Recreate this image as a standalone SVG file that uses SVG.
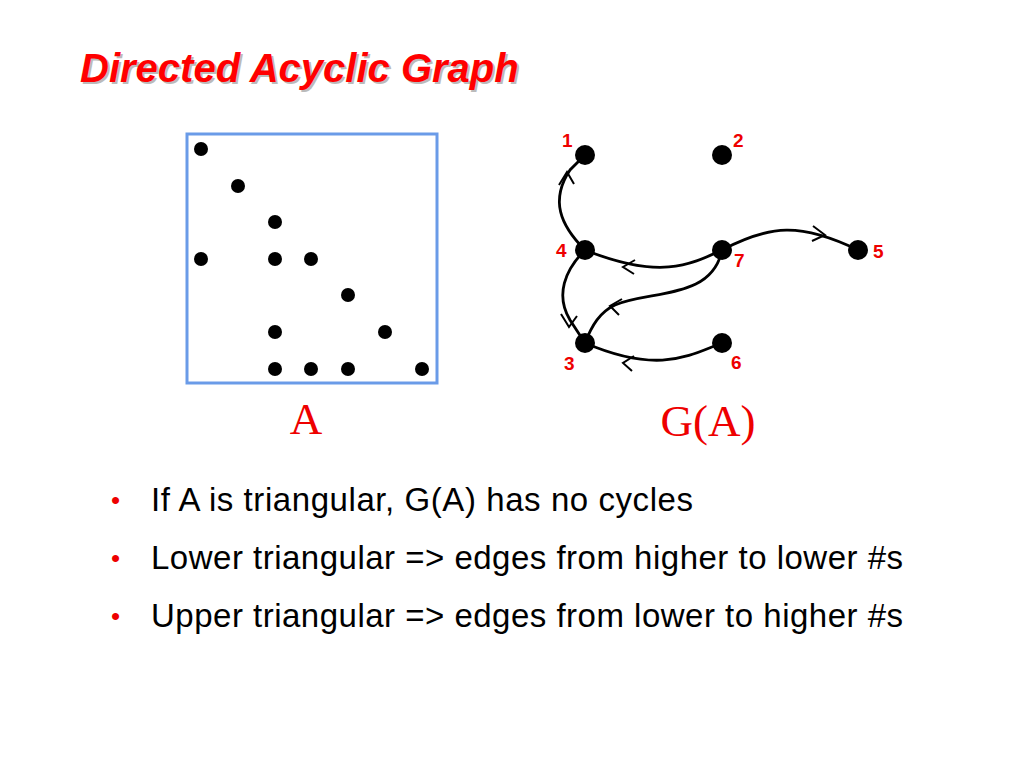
<svg xmlns="http://www.w3.org/2000/svg" width="1024" height="768" viewBox="0 0 1024 768">
<style>
.d{fill:#000}
.e{fill:none;stroke:#000;stroke-width:2.8}
.h{fill:none;stroke:#000;stroke-width:2}
.n{font-family:"Liberation Sans",Arial,sans-serif;font-weight:bold;font-size:19px;fill:#e00}
.b{font-family:"Liberation Sans",Arial,sans-serif;font-size:33px;fill:#000}
.p{font-family:"Liberation Sans",Arial,sans-serif;font-size:26px;fill:#e00}
.s{font-family:"Liberation Serif","Times New Roman",serif;font-size:45px;fill:#e00}
</style>
<rect width="1024" height="768" fill="#fff"/>
<text x="82" y="84" font-family="Liberation Sans,Arial,sans-serif" font-weight="bold" font-style="italic" font-size="40" fill="#bbb">Directed Acyclic Graph</text>
<text x="80" y="82" font-family="Liberation Sans,Arial,sans-serif" font-weight="bold" font-style="italic" font-size="40" fill="#f00">Directed Acyclic Graph</text>
<g id="matrix">
<rect x="187" y="134" width="250" height="249" fill="none" stroke="#6a9be8" stroke-width="3"/>
<g class="d">
<circle cx="201" cy="149" r="7"/><circle cx="238" cy="186" r="7"/><circle cx="275" cy="222" r="7"/>
<circle cx="201" cy="259" r="7"/><circle cx="275" cy="259" r="7"/><circle cx="311" cy="259" r="7"/>
<circle cx="348" cy="295" r="7"/><circle cx="275" cy="332" r="7"/><circle cx="385" cy="332" r="7"/>
<circle cx="275" cy="369" r="7"/><circle cx="311" cy="369" r="7"/><circle cx="348" cy="369" r="7"/><circle cx="422" cy="369" r="7"/>
</g>
<text class="s" x="306" y="434" text-anchor="middle">A</text>
</g>
<g id="connectors">
<path class="e" d="M585,250 C560,225 550,200 570,170 L585,155"/>
<path class="h" d="M559,185 L567,172 L574,184"/>
<path class="e" d="M585,250 C565,270 555,295 570,320 L585,343"/>
<path class="h" d="M561,314 L569,327 L577,316"/>
<path class="e" d="M722,250 C690,265 660,280 585,250"/>
<path class="h" d="M635,260 L623,267 L634,274"/>
<path class="e" d="M722,250 C712,300 650,290 615,305 C600,312 592,325 585,343"/>
<path class="h" d="M622,299 L610,306 L619,315"/>
<path class="e" d="M722,343 C690,355 660,375 585,343"/>
<path class="h" d="M634,356 L623,363 L632,371"/>
<path class="e" d="M722,250 C770,225 800,222 858,250"/>
<path class="h" d="M813,226 L825,235 L812,241"/>
</g>
<g id="n1"><circle class="d" cx="585" cy="155" r="10"/><text class="n" x="562" y="147">1</text></g>
<g id="n2"><circle class="d" cx="722" cy="155" r="10"/><text class="n" x="733" y="147">2</text></g>
<g id="n4"><circle class="d" cx="585" cy="250" r="10"/><text class="n" x="556" y="257">4</text></g>
<g id="n7"><circle class="d" cx="722" cy="250" r="10"/><text class="n" x="734" y="267">7</text></g>
<g id="n5"><circle class="d" cx="858" cy="250" r="10"/><text class="n" x="873" y="258">5</text></g>
<g id="n3"><circle class="d" cx="585" cy="343" r="10"/><text class="n" x="564" y="370">3</text></g>
<g id="n6"><circle class="d" cx="722" cy="343" r="10"/><text class="n" x="731" y="369">6</text></g>
<text class="s" x="708" y="436" text-anchor="middle">G(A)</text>
<g id="bullets">
<text class="p" x="111" y="509">•</text>
<text class="b" x="151" y="511" textLength="542" lengthAdjust="spacing">If A is triangular, G(A) has no cycles</text>
<text class="p" x="111" y="567">•</text>
<text class="b" x="151" y="569" textLength="752" lengthAdjust="spacing">Lower triangular =&gt; edges from higher to lower #s</text>
<text class="p" x="111" y="625">•</text>
<text class="b" x="151" y="627" textLength="752" lengthAdjust="spacing">Upper triangular =&gt; edges from lower to higher #s</text>
</g>
</svg>
